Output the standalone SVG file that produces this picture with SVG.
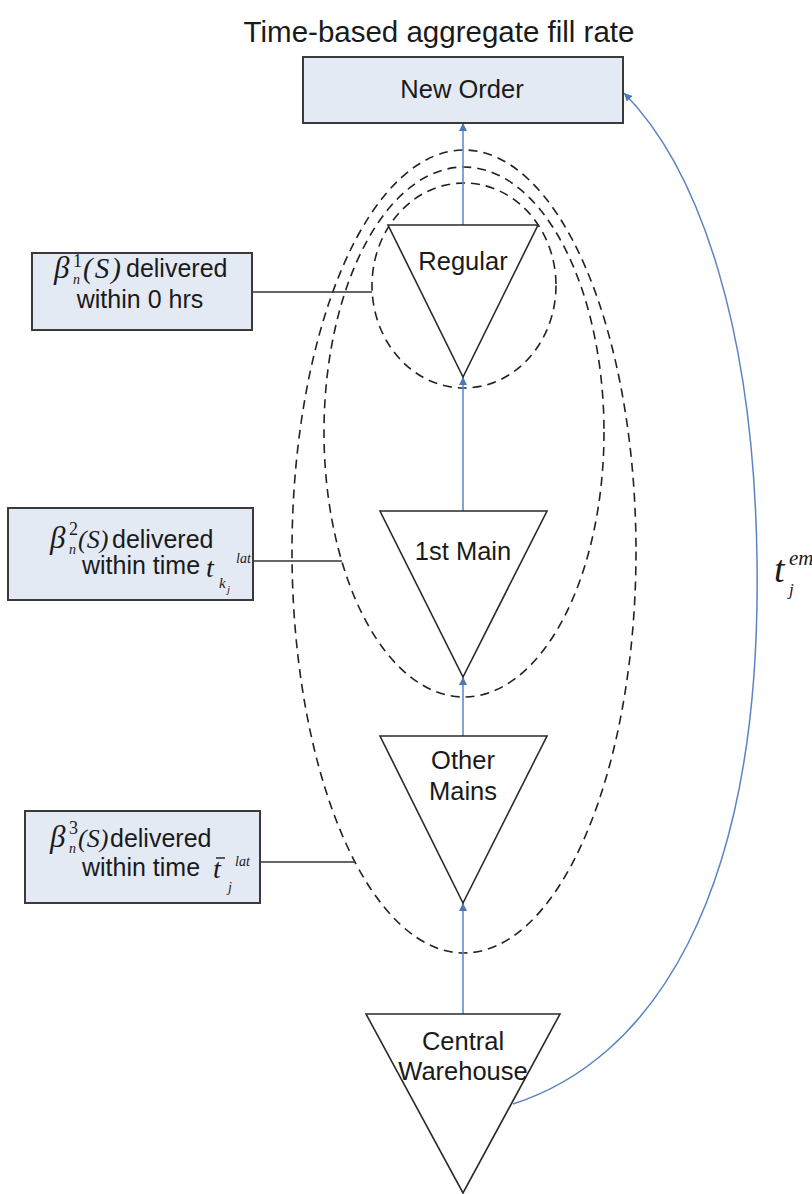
<svg xmlns="http://www.w3.org/2000/svg" width="812" height="1194" viewBox="0 0 812 1194">
<style>
.sans{font-family:"Liberation Sans",Arial,sans-serif;fill:#1a1a1a}
.ser{font-family:"Liberation Serif","Times New Roman",serif;font-style:italic;fill:#1a1a1a}
.up{font-style:normal}
.box{fill:#e4eaf4;stroke:#3a3a3a;stroke-width:2}
.tri{fill:#fff;stroke:#2a2a2a;stroke-width:1.6}
.dash{fill:none;stroke:#222;stroke-width:1.6;stroke-dasharray:9 6}
.lead{stroke:#333;stroke-width:1.5;fill:none}
.flow{stroke:#5a84c0;stroke-width:1.5;fill:none;marker-end:url(#ah)}
</style>
<defs>
<marker id="ah" viewBox="0 0 10 10" refX="10" refY="5" markerWidth="8" markerHeight="8" orient="auto" markerUnits="userSpaceOnUse">
<path d="M0,0 L10,5 L0,10 z" fill="#4a78b8"/>
</marker>
</defs>
<rect width="812" height="1194" fill="#fff"/>
<text class="sans" x="439" y="42" font-size="29.5" text-anchor="middle">Time-based aggregate fill rate</text>

<g id="ellipses">
<ellipse class="dash" cx="464" cy="551.5" rx="172" ry="401.5"/>
<ellipse class="dash" cx="464" cy="432" rx="140" ry="265"/>
<ellipse class="dash" cx="464" cy="285.5" rx="92" ry="102.5"/>
</g>

<g id="connectors">
<line class="flow" x1="463" y1="225" x2="463" y2="123"/>
<line class="flow" x1="463" y1="511" x2="463" y2="377"/>
<line class="flow" x1="463" y1="736" x2="463" y2="677"/>
<line class="flow" x1="463" y1="1014" x2="463" y2="903"/>
<path class="flow" d="M513,1104 C650,1060 762,900 757,560 C754,330 700,170 624,93"/>
<line class="lead" x1="252" y1="292" x2="372" y2="292"/>
<line class="lead" x1="253" y1="561" x2="342" y2="561"/>
<line class="lead" x1="260" y1="862" x2="355" y2="862"/>
</g>

<g id="new-order">
<rect class="box" x="303" y="57" width="320" height="66"/>
<text class="sans" x="462" y="98" font-size="25.5" text-anchor="middle">New Order</text>
</g>

<g id="regular">
<polygon class="tri" points="388,225 538,225 463,377"/>
<text class="sans" x="463" y="270" font-size="25.5" text-anchor="middle">Regular</text>
</g>

<g id="first-main">
<polygon class="tri" points="380,511 547,511 463,677"/>
<text class="sans" x="463" y="560" font-size="25.5" text-anchor="middle">1st Main</text>
</g>

<g id="other-mains">
<polygon class="tri" points="380,736 547,736 463,903"/>
<text class="sans" x="463" y="769" font-size="25.5" text-anchor="middle">Other</text>
<text class="sans" x="463" y="800" font-size="25.5" text-anchor="middle">Mains</text>
</g>

<g id="central-warehouse">
<polygon class="tri" points="366,1014 560,1014 463,1193"/>
<text class="sans" x="463" y="1050" font-size="25.5" text-anchor="middle">Central</text>
<text class="sans" x="463" y="1080" font-size="25.5" text-anchor="middle">Warehouse</text>
</g>

<g id="box-1">
<rect class="box" x="32" y="253" width="220" height="77"/>
<text class="ser" x="54" y="278" font-size="31">β</text>
<text class="ser up" x="73" y="267" font-size="18">1</text>
<text class="ser" x="73" y="284" font-size="14">n</text>
<text class="ser" x="83" y="278" font-size="29" letter-spacing="2">(S)</text>
<text class="sans" x="126" y="277" font-size="25">delivered</text>
<text class="sans" x="140" y="308" font-size="25" text-anchor="middle">within 0 hrs</text>
</g>

<g id="box-2">
<rect class="box" x="8" y="508" width="245" height="92"/>
<text class="ser" x="50" y="548" font-size="31">β</text>
<text class="ser up" x="69" y="535" font-size="18">2</text>
<text class="ser" x="69" y="554" font-size="14">n</text>
<text class="ser" x="78" y="548" font-size="26">(S)</text>
<text class="sans" x="112" y="548" font-size="25">delivered</text>
<text class="sans" x="82" y="574" font-size="25">within time</text>
<text class="ser" x="206" y="577" font-size="28">t</text>
<text class="ser" x="219" y="588" font-size="15">k</text>
<text class="ser" x="227" y="593" font-size="11">j</text>
<text class="ser" x="236" y="563" font-size="14">lat</text>
</g>

<g id="box-3">
<rect class="box" x="25" y="811" width="235" height="92"/>
<text class="ser" x="50" y="847" font-size="31">β</text>
<text class="ser up" x="69" y="834" font-size="18">3</text>
<text class="ser" x="69" y="853" font-size="14">n</text>
<text class="ser" x="78" y="847" font-size="26">(S)</text>
<text class="sans" x="110" y="847" font-size="25">delivered</text>
<text class="sans" x="82" y="876" font-size="25">within time</text>
<text class="ser" x="213" y="878" font-size="28">t</text>
<line x1="216" y1="858" x2="225" y2="858" stroke="#1a1a1a" stroke-width="1.4"/>
<text class="ser" x="235" y="866" font-size="14">lat</text>
<text class="ser" x="228" y="892" font-size="14">j</text>
</g>

<g id="t-em-label">
<text class="ser" x="774" y="582" font-size="38">t</text>
<text class="ser" x="789" y="565" font-size="21">em</text>
<text class="ser" x="789" y="595" font-size="17">j</text>
</g>
</svg>
